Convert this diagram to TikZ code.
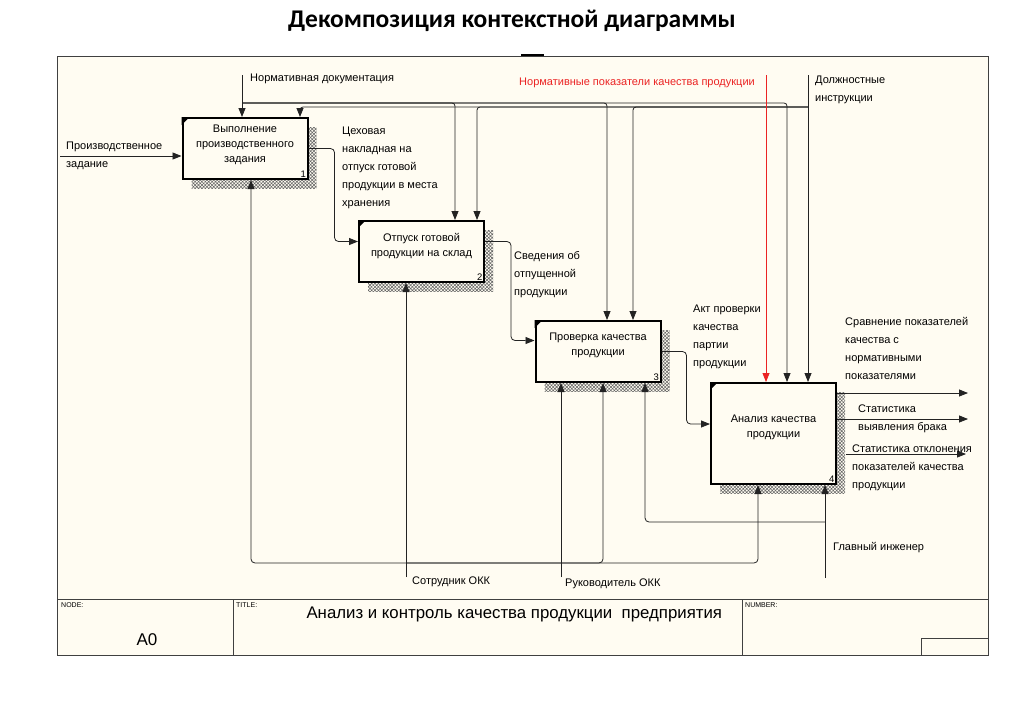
\documentclass[tikz,border=0pt]{standalone}
\usepackage{fontspec}
\setmainfont{Liberation Sans}
\newfontfamily\headfont{Carlito}
\usetikzlibrary{arrows.meta,calc,shadows,patterns.meta}
\definecolor{paper}{RGB}{255,252,242}
\definecolor{normred}{RGB}{235,35,35}
\definecolor{wire}{RGB}{35,35,35}

\begin{document}
\begin{tikzpicture}[x=1pt,y=-1pt,
    func/.style={draw=black, line width=2pt, fill=paper, minimum width=125pt,
      minimum height=61pt, inner sep=0pt, align=center,
      font=\fontsize{11}{15}\selectfont, text depth=14pt,
      general shadow={shadow xshift=9pt, shadow yshift=-9pt,
        pattern={Hatch[angle=45,distance=2.4pt,line width=0.55pt]}, pattern color=black!60}},
    num/.style={anchor=south east, inner sep=2.5pt, font=\fontsize{9.5}{10}\selectfont},
    lbl/.style={anchor=north west, inner sep=0pt, align=left,
      font=\fontsize{11}{18}\selectfont},
    tiny/.style={anchor=north west, inner sep=0pt, font=\fontsize{7}{8}\selectfont},
    frame/.style={draw=black!75, line width=1pt},
    wire/.style={draw=wire, line width=0.8pt},
    arr/.style={wire, -{Triangle[length=9pt,width=7pt]}}]
    \useasboundingbox (0,0) rectangle (1024,723);
    % Heading
    \node[font=\headfont\bfseries\fontsize{25.5}{28}\selectfont] (head) at (512,21) {Декомпозиция контекстной диаграммы};
    % Frame and title block
    \draw[frame, fill=paper] (57,56) rectangle (988,655);
    \draw[frame] (57,599) -- (988,599) (233,599) -- (233,655) (742,599) -- (742,655) (921,638) rectangle (988,655);
    \draw[line width=2.5pt] (521,55) -- (544,55);
    \node[tiny] (nodetag) at (61,602) {NODE:};
    \node[tiny] (titletag) at (236,602) {TITLE:};
    \node[tiny] (numtag) at (745,602) {NUMBER:};
    \node[font=\fontsize{17}{20}\selectfont] (nodeno) at (147,640) {A0};
    \node[anchor=west, font=\fontsize{16.8}{20}\selectfont] (title) at (303,614) {Анализ и контроль качества продукции\ \ предприятия};
    %
    % Functions
    \node[func, text depth=9pt] (f1) at (245,148.5) {Выполнение\\производственного\\задания};
    \node[func] (f2) at (421.5,251.5) {Отпуск готовой\\продукции на склад};
    \node[func] (f3) at (598,351.5) {Проверка качества\\продукции};
    \node[func, minimum height=101pt] (f4) at (773.5,433.5) {Анализ качества\\продукции};
    \foreach \f/\n in {f1/1,f2/2,f3/3,f4/4}{
      \fill (\f.north west) -- ++(8,0) -- ++(-8,8) -- cycle;
      \node[num] (\f-num) at (\f.south east) {\n};
    }
    %
    % Controls
    \coordinate (nd) at (242,75);
    \coordinate (ndbus) at (242,103);
    \coordinate (np) at (766,75);
    \coordinate (di) at (808,75);
    \coordinate (dibus) at (808,107);
    \draw[arr] (nd) -- (nd |- f1.north);
    \foreach \x/\f in {455/f2, 607/f3, 787/f4}
      \draw[arr, rounded corners=3pt] (ndbus) -| (\x,0 |- \f.north);
    \draw[arr] (di) -- (di |- f4.north);
    \foreach \x/\f in {300/f1, 477/f2, 633/f3}
      \draw[arr, rounded corners=3pt] (dibus) -| (\x,0 |- \f.north);
    \draw[arr, draw=normred] (np) -- (np |- f4.north);
    \node[lbl] (ndtext) at (250,73.5) {Нормативная документация};
    \node[lbl, text=normred] (nptext) at (519,77.5) {Нормативные показатели качества продукции};
    \node[lbl] (ditext) at (815,75.5) {Должностные\\инструкции};
    %
    % Input and outputs
    \coordinate (pz) at (60,156);
    \draw[arr] (pz) -- (pz -| f1.west);
    \node[lbl] (pztext) at (66,141.5) {Производственное\\задание};
    \draw[arr, rounded corners=4pt] (f1.east) -- ++(26,0) |- ([yshift=10pt]f2.west);
    \draw[arr, rounded corners=4pt] ([yshift=10pt]f2.east) -- ++(26,0) |- ([yshift=11pt]f3.west);
    \draw[arr, rounded corners=4pt] (f3.east) -- ++(25,0) |- ([yshift=9.5pt]f4.west);
    \node[lbl] (cntext) at (342,126.5) {Цеховая\\накладная на\\отпуск готовой\\продукции в места\\хранения};
    \node[lbl] (svtext) at (514,251.5) {Сведения об\\отпущенной\\продукции};
    \node[lbl] (akttext) at (693,304.5) {Акт проверки\\качества\\партии\\продукции};
    \coordinate (o1) at (968,393);
    \coordinate (o2) at (968,419);
    \coordinate (o3) at (966,454);
    \draw[arr] (o1 -| f4.east) -- (o1);
    \draw[arr] (o2 -| f4.east) -- (o2);
    \draw[arr] ([xshift=9pt]o3 -| f4.east) -- (o3);
    \node[lbl] (o1text) at (845,317.5) {Сравнение показателей\\качества с\\нормативными\\показателями};
    \node[lbl] (o2text) at (858,404.5) {Статистика\\выявления брака};
    \node[lbl] (o3text) at (852,444.5) {Статистика отклонения\\показателей качества\\продукции};
    %
    % Mechanisms
    \coordinate (so) at (406,577);
    \coordinate (sobus) at (406,563);
    \coordinate (ro) at (561,577);
    \coordinate (gi) at (825,578);
    \coordinate (gibus) at (825,522);
    \draw[arr] (so) -- (so |- f2.south);
    \foreach \x/\f in {251/f1, 603/f3, 758/f4}
      \draw[arr, rounded corners=4pt] (sobus) -| (\x,0 |- \f.south);
    \draw[arr] (ro) -- (ro |- f3.south);
    \draw[arr] (gi) -- (gi |- f4.south);
    \draw[arr, rounded corners=4pt] (gibus) -| (645,0 |- f3.south);
    \node[lbl] (sotext) at (412,576.5) {Сотрудник ОКК};
    \node[lbl] (rotext) at (565,578.5) {Руководитель ОКК};
    \node[lbl] (gitext) at (833,542.5) {Главный инженер};
\end{tikzpicture}
\end{document}
